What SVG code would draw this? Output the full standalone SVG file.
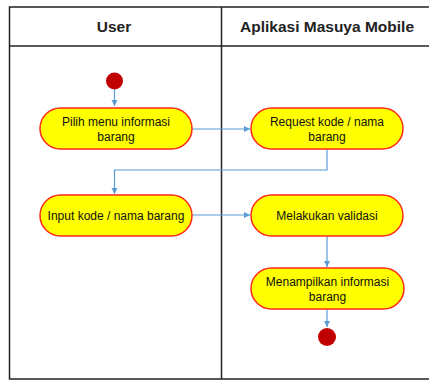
<svg xmlns="http://www.w3.org/2000/svg" width="429" height="381" viewBox="0 0 429 381">
<style>
.frame{fill:none;stroke:#222;stroke-width:1.5}
.act{fill:#FFFF00;stroke:#FF2A1A;stroke-width:1.5}
.txt{font-family:"Liberation Sans",Arial,sans-serif;font-size:12px;fill:#111;text-anchor:middle}
.hdr{font-family:"Liberation Sans",Arial,sans-serif;font-size:15.5px;font-weight:bold;fill:#222;text-anchor:middle}
.conn{fill:none;stroke:#5B9BD5;stroke-width:1.2}
.dot{fill:#C00000}
</style>
<defs>
<marker id="arr" markerWidth="8" markerHeight="8" refX="6" refY="3" orient="auto" markerUnits="userSpaceOnUse">
<path d="M0,0 L6,3 L0,6 Z" fill="#5B9BD5"/>
</marker>
</defs>
<g id="swimlanes">
<rect x="0" y="0" width="429" height="381" fill="#fff"/>
<rect class="frame" x="9.5" y="7" width="425" height="372" stroke="#555"/>
<line class="frame" x1="9.5" y1="46" x2="429" y2="46"/>
<line class="frame" x1="221.5" y1="7" x2="221.5" y2="379"/>
<text class="hdr" x="114" y="31.5">User</text>
<text class="hdr" x="327" y="31.5">Aplikasi Masuya Mobile</text>
</g>
<g id="connectors">
<path class="conn" d="M114.5,86 V106" marker-end="url(#arr)"/>
<path class="conn" d="M192,129 H250" marker-end="url(#arr)"/>
<path class="conn" d="M327,149 V170 H114.5 V194" marker-end="url(#arr)"/>
<path class="conn" d="M192,215 H250" marker-end="url(#arr)"/>
<path class="conn" d="M327,236 V267" marker-end="url(#arr)"/>
<path class="conn" d="M327,309 V327" marker-end="url(#arr)"/>
</g>
<g id="start"><circle class="dot" cx="114.5" cy="81" r="8.5"/></g>
<g id="n1">
<rect class="act" x="40" y="108" width="152" height="41" rx="20.5"/>
<text class="txt" x="116" y="125.5">Pilih menu informasi</text>
<text class="txt" x="116" y="140.5">barang</text>
</g>
<g id="n2">
<rect class="act" x="251" y="108" width="152" height="41" rx="20.5"/>
<text class="txt" x="327" y="125.5">Request kode / nama</text>
<text class="txt" x="327" y="140.5">barang</text>
</g>
<g id="n3">
<rect class="act" x="40" y="195" width="152" height="41" rx="20.5"/>
<text class="txt" x="116" y="219.5">Input kode / nama barang</text>
</g>
<g id="n4">
<rect class="act" x="251" y="195" width="152" height="41" rx="20.5"/>
<text class="txt" x="327" y="219.5">Melakukan validasi</text>
</g>
<g id="n5">
<rect class="act" x="251" y="268" width="153" height="41" rx="20.5"/>
<text class="txt" x="327.5" y="285.5">Menampilkan informasi</text>
<text class="txt" x="327.5" y="300.5">barang</text>
</g>
<g id="end"><circle class="dot" cx="327" cy="337" r="9"/></g>
</svg>
